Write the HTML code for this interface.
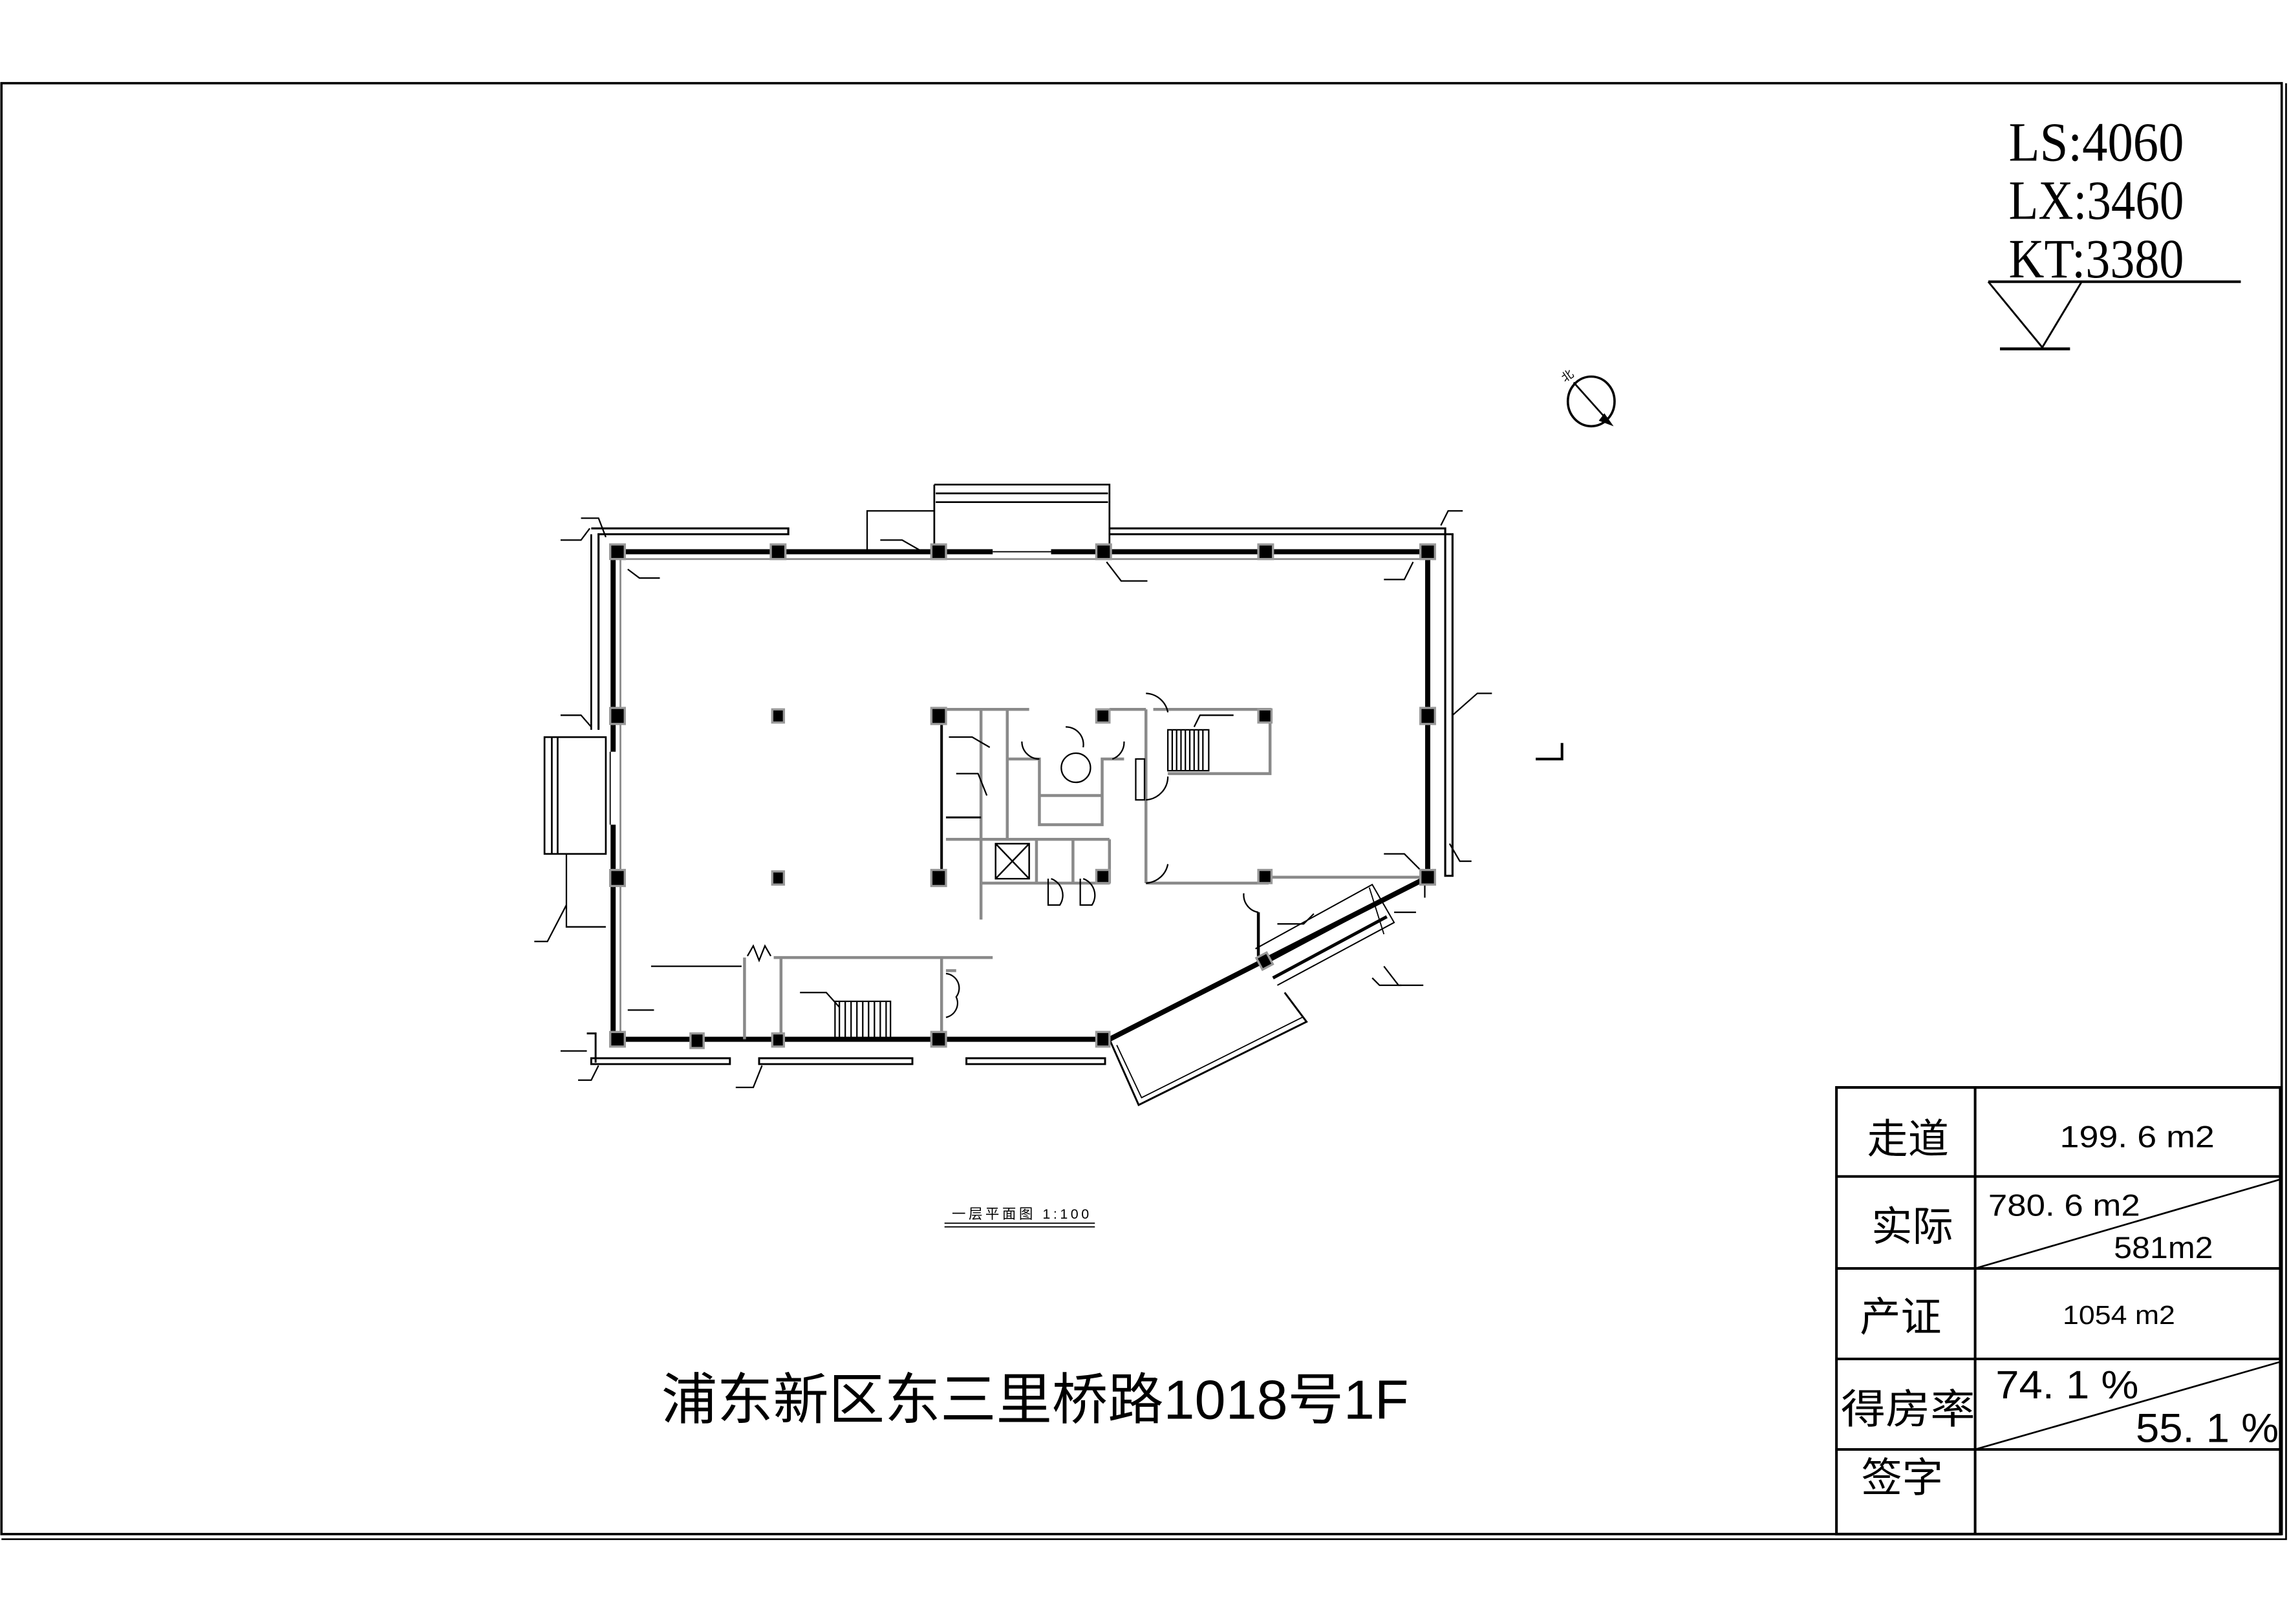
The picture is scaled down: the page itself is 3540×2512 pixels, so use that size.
<!DOCTYPE html>
<html><head><meta charset="utf-8"><style>
html,body{margin:0;padding:0;background:#fff;}
svg{display:block;}
</style></head><body>
<svg xmlns="http://www.w3.org/2000/svg" width="3540" height="2512" viewBox="0 0 1568 1112.6" preserveAspectRatio="none">
<rect width="1568" height="1112.6" fill="#fff"/>
<!-- frame -->
<g fill="none" stroke="#000">
<path d="M1 57 H1563 V1051 H1 Z" stroke-width="1.6"/>
<path d="M1 1054.5 H1566 V57" stroke-width="1.2"/>
</g>
<!-- elevation text -->
<g font-family="Liberation Serif, serif" font-size="38" fill="#000">
<text x="1376" y="110" textLength="120" lengthAdjust="spacingAndGlyphs">LS:4060</text>
<text x="1376" y="150" textLength="120" lengthAdjust="spacingAndGlyphs">LX:3460</text>
<text x="1376" y="190" textLength="120" lengthAdjust="spacingAndGlyphs">KT:3380</text>
</g>
<g stroke="#000" fill="none">
<path d="M1362 193 H1535" stroke-width="1.8"/>
<path d="M1362 193 L1399 238 L1426 193" stroke-width="1.3"/>
<path d="M1370 239 H1418" stroke-width="2"/>
<!-- compass -->
<ellipse cx="1090" cy="275" rx="16" ry="17" stroke-width="1.6"/>
<path d="M1078 262 L1103 290" stroke-width="1.2"/>
<path d="M1099 284 L1104 291 L1096 288 Z" fill="#000"/>
<!-- L mark -->
<path d="M1070 509 V520 H1052" stroke-width="1.8"/>
</g>
<text x="1072" y="262" font-family="Noto Sans CJK SC, sans-serif" font-size="8" transform="rotate(-35 1072 262)">北</text>

<!-- floor plan -->
<g fill="none" stroke="#000">
<path d="M420 378 H978 V601 L760 712 H420 Z" stroke-width="3.5"/>
<path d="M425 383 H973" stroke="#888" stroke-width="1.2"/>
<path d="M425 383 V707" stroke="#888" stroke-width="1.2"/>
<path d="M405 362 H540 V366 H410 V500" stroke-width="1.4"/>
<path d="M760 362 H990 V600 H995 V366 H760" stroke-width="1.4"/>
<path d="M405 366 V500" stroke-width="1.2"/>
<path d="M405 725 H500 V729 H405 Z" stroke-width="1.3"/>
<path d="M520 725 H625 V729 H520 Z" stroke-width="1.3"/>
<path d="M662 725 H757 V729 H662 Z" stroke-width="1.3"/>
<path d="M402 708 H408 V728" stroke-width="1.3"/>
<path d="M640 332 H760 V378 M640 378 V332 M641 338 H759 M641 344 H759" stroke-width="1.2"/>
<path d="M594 378 V350 H640" stroke-width="1"/>
<path d="M680 378 H720" stroke="#fff" stroke-width="5"/>
<path d="M680 378 H720" stroke-width="0.8"/>
<path d="M373 505 H415 V585 H373 Z M378 505 V585 M382 505 V585" stroke-width="1.2"/>
<path d="M388 585 V635 H415" stroke-width="1"/>
<path d="M420 515 V565" stroke="#fff" stroke-width="5"/>
<path d="M418 515 V565" stroke-width="0.8"/>
<path d="M760 712 L780 757 L895 700 L880 680" stroke-width="1.3"/>
<path d="M765 716 L782 752 L892 697" stroke-width="0.8"/>
<path d="M866 660 L945 618 M872 670 L950 628" stroke-width="2.2"/>
<path d="M860 650 L940 606 L955 632 L875 675" stroke-width="0.9"/>
<path d="M938 608 L948 640" stroke-width="0.8"/>
<g stroke="#8a8a8a" stroke-width="2">
<path d="M648 486 H705 M672 486 V630 M648 575 H760 M690 486 V575 M690 520 H712 V545 H755 V520 H770 M712 545 V565 H755 V545"/>
<path d="M710 575 V605 M735 575 V605 M760 575 V605 M672 605 H760"/>
<path d="M760 486 H785 M785 486 V605 M785 605 H868 V601 M790 486 H870 V530 H800 M868 601 H975"/>
<path d="M530 656 H680 M535 656 V712 M510 656 V712 M645 656 V712 M648 665 H655"/>
</g>
<path d="M645 486 V605" stroke-width="1.8"/>
<path d="M648 560 H672" stroke-width="1.3"/>
<path d="M682 578 H705 V602 H682 Z M682 578 L705 602 M705 578 L682 602" stroke-width="1.1"/>
<circle cx="737" cy="526" r="10" stroke-width="1"/>
<path d="M730 498 A12 12 0 0 1 742 512 M712 520 A12 12 0 0 1 700 508 M762 520 A12 12 0 0 0 770 508" stroke-width="1"/>
<path d="M718 602 V620 H726 A12 12 0 0 0 720 602 M740 602 V620 H748 A12 12 0 0 0 742 602" stroke-width="1"/>
<path d="M785 475 A16 16 0 0 1 800 488 M785 605 A16 16 0 0 0 800 592 M785 548 A16 16 0 0 0 800 532" stroke-width="1"/>
<path d="M852 612 A12 12 0 0 0 862 625" stroke-width="1"/>
<path d="M862 625 V655" stroke-width="2"/>
<path d="M778 520 V548 H784 V520 Z" stroke-width="1"/>
<g stroke-width="1">
<path d="M800 500 H828 V528 H800 Z"/>
<path d="M803 500V528M806 500V528M809 500V528M812 500V528M815 500V528M818 500V528M821 500V528M824 500V528"/>
<path d="M572 686 H610 V712 H572 Z"/>
<path d="M575 686V712M579 686V712M583 686V712M587 686V712M591 686V712M595 686V712M599 686V712M603 686V712M607 686V712"/>
<path d="M512 655 L516 648 L520 658 L524 648 L528 655" />
<path d="M648 667 A10 10 0 0 1 655 683 A10 10 0 0 1 648 697"/>
</g>
<g stroke-width="1">
<path d="M398 355 H410 L415 368 M384 370 H398 L404 362"/>
<path d="M430 390 L438 396 H452"/>
<path d="M603 370 H618 L632 378"/>
<path d="M758 385 L768 398 H786"/>
<path d="M968 385 L962 397 H948"/>
<path d="M987 360 L992 350 H1002"/>
<path d="M995 490 L1012 475 H1022"/>
<path d="M993 578 L1000 590 H1008"/>
<path d="M384 490 H398 L405 498"/>
<path d="M366 645 H375 L388 620"/>
<path d="M446 662 H508"/>
<path d="M548 680 H566 L575 690"/>
<path d="M430 692 H448"/>
<path d="M384 720 H402 M396 740 H405 L410 730"/>
<path d="M504 745 H516 L522 730"/>
<path d="M650 505 H666 L678 512"/>
<path d="M655 530 H670 L676 545"/>
<path d="M818 498 L822 490 H845"/>
<path d="M948 585 H962 L975 598"/>
<path d="M875 633 H893 L900 626 M955 625 H970 M948 662 L958 675 H975"/>
<path d="M940 670 L945 675 H960"/>
<path d="M976 600 V615"/>
</g>
</g>
<g fill="#000" stroke="#999" stroke-width="1.5">
<rect x="418" y="373" width="10" height="10"/><rect x="528" y="373" width="10" height="10"/><rect x="638" y="373" width="10" height="10"/><rect x="751" y="373" width="10" height="10"/><rect x="862" y="373" width="10" height="10"/><rect x="973" y="373" width="10" height="10"/>
<rect x="418" y="485" width="10" height="11"/><rect x="529" y="486" width="8" height="9"/><rect x="638" y="485" width="10" height="11"/><rect x="751" y="486" width="9" height="9"/><rect x="862" y="486" width="9" height="9"/><rect x="973" y="485" width="10" height="11"/>
<rect x="418" y="596" width="10" height="11"/><rect x="529" y="597" width="8" height="9"/><rect x="638" y="596" width="10" height="11"/><rect x="751" y="596" width="9" height="9"/><rect x="862" y="596" width="9" height="9"/><rect x="973" y="596" width="10" height="10"/>
<rect x="418" y="707" width="10" height="10"/><rect x="473" y="708" width="9" height="10"/><rect x="529" y="708" width="8" height="9"/><rect x="638" y="707" width="10" height="10"/><rect x="751" y="707" width="9" height="10"/>
<rect x="862" y="654" width="8" height="9" transform="rotate(-28 866 658)"/>
</g>

<text x="652" y="835" font-family="Liberation Sans, Noto Sans CJK SC, sans-serif" font-size="9.5" textLength="94">一层平面图 1:100</text>
<path d="M647 838 H750 M647 840.5 H750" stroke="#000" stroke-width="0.8"/>

<text x="453" y="972" font-family="Liberation Sans, Noto Sans CJK SC, sans-serif" font-size="38" textLength="512" lengthAdjust="spacingAndGlyphs">浦东新区东三里桥路1018号1F</text>

<g fill="none" stroke="#000" stroke-width="1.8">
<path d="M1258 745 H1562 V1051 H1258 Z"/>
<path d="M1353 745 V1051"/>
<path d="M1258 806 H1562 M1258 869 H1562 M1258 931 H1562 M1258 993 H1562"/>
<path d="M1353 869 L1562 808 M1353 993 L1562 933" stroke-width="1.2"/>
</g>
<g font-family="Liberation Sans, Noto Sans CJK SC, sans-serif" fill="#000">
<text x="1279" y="790" font-size="28">走道</text>
<text x="1282" y="850" font-size="28">实际</text>
<text x="1274" y="912" font-size="28">产证</text>
<text x="1261" y="975" font-size="28" textLength="92" lengthAdjust="spacingAndGlyphs">得房率</text>
<text x="1275" y="1022" font-size="28">签字</text>
<text x="1411" y="786" font-size="21" textLength="106" lengthAdjust="spacingAndGlyphs">199. 6  m2</text>
<text x="1362" y="833" font-size="21" textLength="104" lengthAdjust="spacingAndGlyphs">780. 6  m2</text>
<text x="1448" y="862" font-size="21" textLength="68" lengthAdjust="spacingAndGlyphs">581m2</text>
<text x="1413" y="907" font-size="18" textLength="77" lengthAdjust="spacingAndGlyphs">1054  m2</text>
<text x="1367" y="958" font-size="27" textLength="98" lengthAdjust="spacingAndGlyphs">74. 1  %</text>
<text x="1463" y="988" font-size="28" textLength="98" lengthAdjust="spacingAndGlyphs">55. 1  %</text>
</g>
</svg>
</body></html>
